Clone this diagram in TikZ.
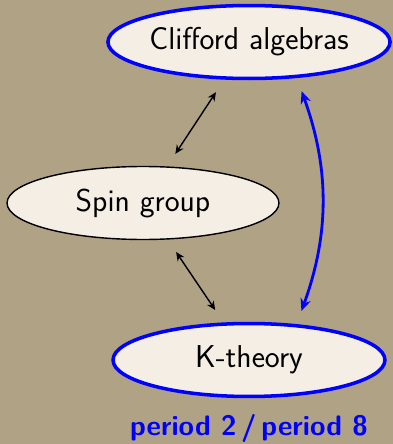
\documentclass[tikz,border=0pt]{standalone}
\usepackage{tikz}
\usetikzlibrary{arrows.meta,shapes.geometric}
\definecolor{paper}{RGB}{176,162,132}
\definecolor{cream}{RGB}{244,238,229}

\begin{document}
\begin{tikzpicture}[x=0.02cm, y=0.02cm, >={Stealth[length=5pt,width=4.5pt]},
    every node/.style={font=\sffamily\fontsize{18}{21}\selectfont},
    topic/.style={ellipse, draw, fill=cream, line width=0.8pt, minimum width=5.44cm, minimum height=1.46cm, inner sep=0pt},
    keytopic/.style={topic, draw=blue, line width=2pt}]
    \fill[paper] (0,0) rectangle (393,444);
    \useasboundingbox (0,0) rectangle (393,444);

    \node[keytopic] (cliff) at (249,402) {Clifford\ algebras};
    \node[topic] (spin) at (143,241) {Spin group};
    \node[keytopic] (kth) at (249,84) {K-theory};
    \node[blue, font=\sffamily\bfseries\fontsize{16}{19}\selectfont] (period) at (249,16) {period 2\,/\,period 8};

    \draw[<->, line width=0.8pt, shorten <=0.3cm, shorten >=0.3cm] (spin) -- (cliff);
    \draw[<->, line width=0.8pt, shorten <=0.3cm, shorten >=0.3cm] (spin) -- (kth);
    \draw[<->, >={Stealth[length=7pt,width=6pt]}, blue, line width=1.6pt, shorten <=0.28cm, shorten >=0.28cm] (cliff.-37) to[bend left=20] (kth.37);
\end{tikzpicture}
\end{document}
